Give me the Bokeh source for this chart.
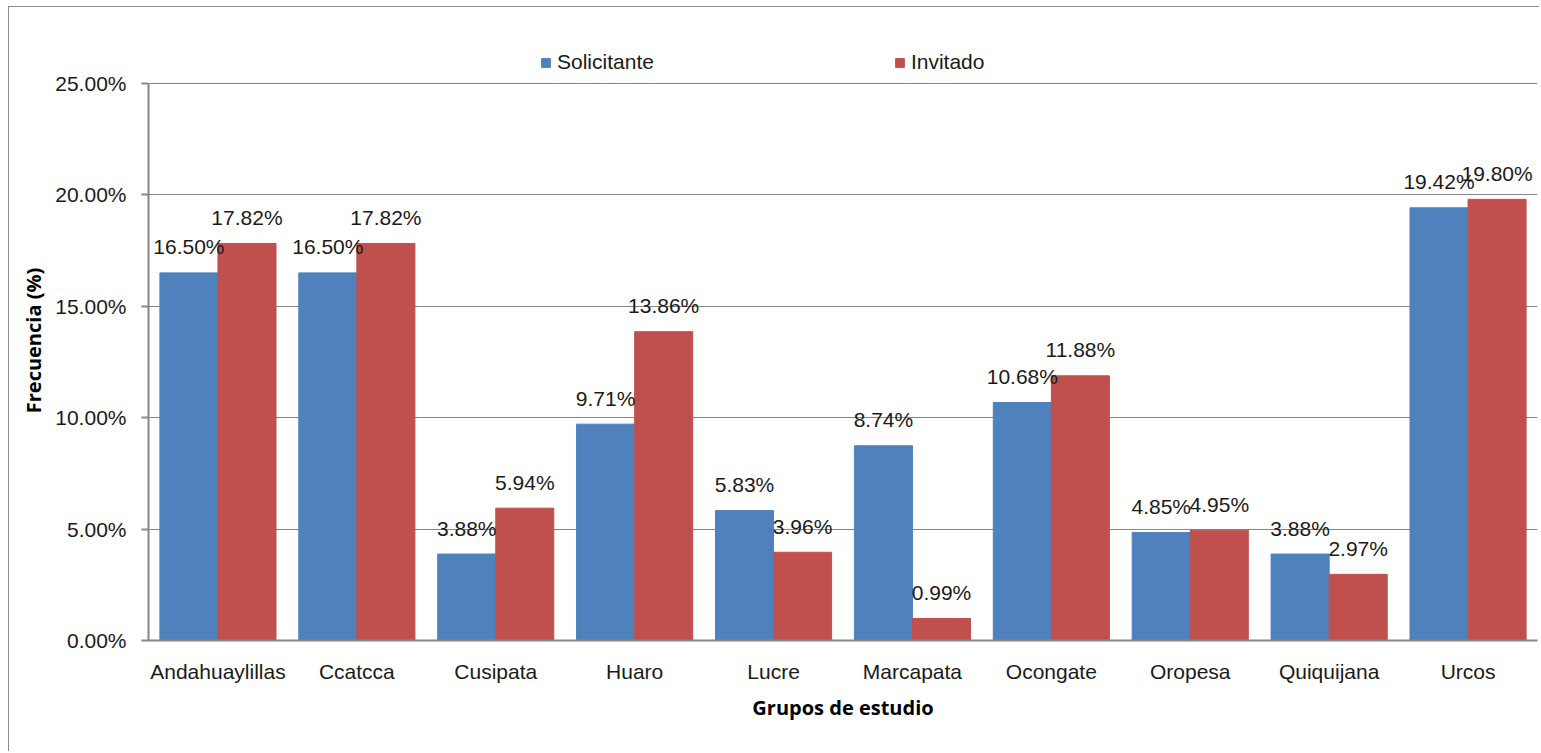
from bokeh.plotting import figure
from bokeh.models import ColumnDataSource, FactorRange, NumeralTickFormatter, FixedTicker, Legend, LegendItem, Range1d
from bokeh.transform import dodge
from bokeh.core.properties import value
from bokeh.embed import file_html
from bokeh.resources import INLINE

categories = ["Andahuaylillas", "Ccatcca", "Cusipata", "Huaro", "Lucre",
              "Marcapata", "Ocongate", "Oropesa", "Quiquijana", "Urcos"]
solicitante = [16.50, 16.50, 3.88, 9.71, 5.83, 8.74, 10.68, 4.85, 3.88, 19.42]
invitado = [17.82, 17.82, 5.94, 13.86, 3.96, 0.99, 11.88, 4.95, 2.97, 19.80]
y_ticks = [0.0, 0.05, 0.10, 0.15, 0.20, 0.25]

src = ColumnDataSource(dict(
    cat=categories,
    sol=[v / 100 for v in solicitante],
    inv=[v / 100 for v in invitado],
    sol_lbl=["%.2f%%" % v for v in solicitante],
    inv_lbl=["%.2f%%" % v for v in invitado],
))

NARROW = "'Liberation Sans Narrow', 'Arial Narrow', 'Liberation Sans', sans-serif"
BOLD = "'Open Sans', sans-serif"
FS = "21px"
GRID = "#868686"
BLUE = "#4F81BD"
RED = "#C0504D"

# frame spans page y 40..640; 25% line must sit at page y 83
y_top = 0.25 * 600 / 557

p = figure(width=1531, height=745, x_range=FactorRange(*categories, range_padding=0),
           y_range=Range1d(0, y_top), output_backend="svg", toolbar_location=None,
           min_border_left=139, min_border_right=3, min_border_top=33, min_border_bottom=112)
p.styles = {"margin-left": "8px", "margin-top": "6px",
            "border-left": "1px solid #8c8c8c", "border-top": "1px solid #8c8c8c"}
p.outline_line_color = None
p.background_fill_color = "white"
p.border_fill_color = "white"

w = 0.418
off = 0.209
r1 = p.vbar(x=dodge("cat", -off, range=p.x_range), top="sol", width=w, source=src,
            fill_color=BLUE, line_color=BLUE)
r2 = p.vbar(x=dodge("cat", off, range=p.x_range), top="inv", width=w, source=src,
            fill_color=RED, line_color=RED)

for col, lbl, o in (("sol", "sol_lbl", -off), ("inv", "inv_lbl", off)):
    p.text(x=dodge("cat", o, range=p.x_range), y=col, text=lbl, source=src,
           text_align="center", text_baseline="alphabetic", y_offset=-26,
           text_font=value(NARROW), text_font_size=FS, text_color="#1a1a1a")

# axes
p.yaxis.ticker = FixedTicker(ticks=y_ticks)
p.yaxis.bounds = (0, 0.25)
p.yaxis.formatter = NumeralTickFormatter(format="0.00%")
p.yaxis.axis_line_color = GRID
p.yaxis.axis_line_width = 2
p.yaxis.major_tick_line_color = GRID
p.yaxis.major_tick_line_width = 2
p.yaxis.major_tick_out = 7
p.yaxis.major_tick_in = 0
p.yaxis.minor_tick_line_color = None
p.yaxis.major_label_text_font = NARROW
p.yaxis.major_label_text_font_size = FS
p.yaxis.major_label_text_color = "#1a1a1a"
p.yaxis.major_label_standoff = 15
p.yaxis.axis_label = "Frecuencia (%)"
p.yaxis.axis_label_text_font = BOLD
p.yaxis.axis_label_text_font_style = "bold"
p.yaxis.axis_label_text_font_size = "20px"
p.yaxis.axis_label_text_color = "black"
p.yaxis.axis_label_standoff = 5

p.xaxis.axis_line_color = GRID
p.xaxis.axis_line_width = 2
p.xaxis.major_tick_line_color = None
p.xaxis.minor_tick_line_color = None
p.xaxis.major_label_text_font = NARROW
p.xaxis.major_label_text_font_size = FS
p.xaxis.major_label_text_color = "#1a1a1a"
p.xaxis.major_label_standoff = 13
p.xaxis.axis_label = "Grupos de estudio"
p.xaxis.axis_label_text_font = BOLD
p.xaxis.axis_label_text_font_style = "bold"
p.xaxis.axis_label_text_font_size = "20px"
p.xaxis.axis_label_text_color = "black"
p.xaxis.axis_label_standoff = 8

p.xgrid.grid_line_color = None
p.ygrid.ticker = FixedTicker(ticks=y_ticks)
p.ygrid.grid_line_color = GRID
p.ygrid.grid_line_width = 1

legend = Legend(items=[LegendItem(label="Solicitante", renderers=[r1]),
                       LegendItem(label="Invitado", renderers=[r2])],
                orientation="horizontal", location=(392, 566),
                border_line_color=None, background_fill_alpha=0,
                padding=0, margin=0, spacing=240,
                glyph_width=11, glyph_height=11, label_standoff=6,
                label_text_font=NARROW, label_text_font_size=FS,
                label_text_color="#1a1a1a", label_height=24)
p.add_layout(legend, "center")

open("out.html", "w").write(file_html(p, INLINE))
